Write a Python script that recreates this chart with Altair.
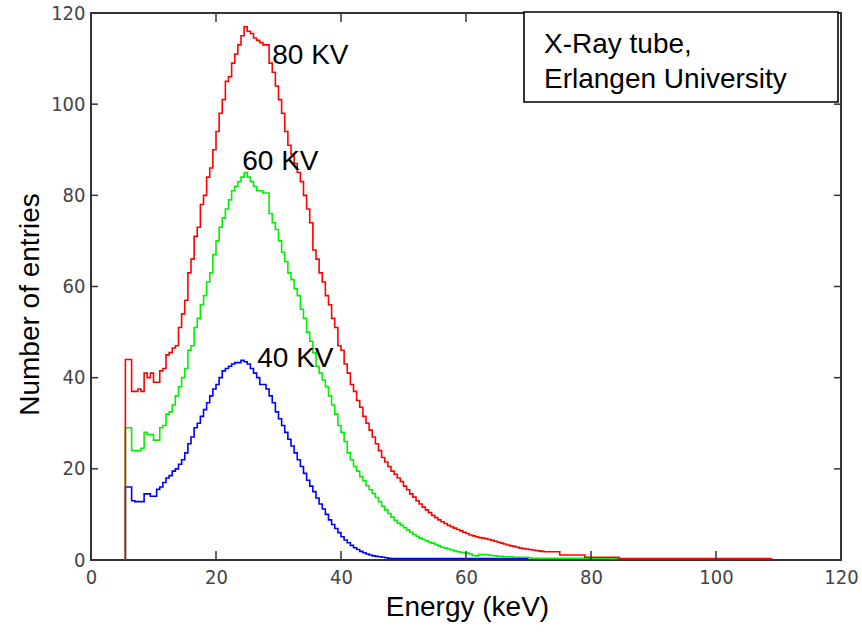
import altair as alt
import pandas as pd

# Histogram binning of the measured spectra (keV)
bin_start = 5.5
bin_width = 0.5

# Counts per bin for each tube voltage
counts_80kv = [
    44, 44, 37, 37, 37.5, 37, 41, 40, 41, 39, 39, 41.5, 42, 45, 45.5, 46.5, 47, 51,
    54, 57, 63, 66, 71, 73, 78, 80, 84, 86, 90, 94, 98, 101, 105, 106, 109, 111, 113, 115,
    117, 116, 115.5, 114.5, 114, 113.5, 113, 113, 109, 107, 104, 101, 98, 94, 91, 89, 87, 85, 83, 80,
    77, 74, 68, 66, 63, 61, 58, 56, 53, 51, 47, 46, 43, 41, 38.5, 37, 35, 33.5, 31.5, 30,
    28.5, 27, 25.5, 24, 22.5, 21.5, 20.5, 19.5, 18.8, 18, 17.2, 16.2, 15.4, 14.5, 13.8, 13, 12.3, 11.6, 11, 10.4,
    9.8, 9.3, 8.8, 8.4, 8.0, 7.6, 7.3, 7.0, 6.7, 6.4, 6.1, 5.8, 5.5, 5.3, 5.1, 4.9, 4.8, 4.7, 4.5, 4.3,
    4.1, 3.9, 3.7, 3.5, 3.3, 3.1, 3.0, 2.8, 2.6, 2.5, 2.4, 2.3, 2.2, 2.1, 2.0, 1.9, 1.8, 1.8, 1.8, 1.8,
    1.8, 1.1, 1.1, 1.1, 1.1, 1.1, 1.1, 1.1, 1.1, 0.6, 0.6, 0.6, 0.6, 0.6, 0.6, 0.6, 0.6, 0.6, 0.6, 0.6,
    0.3, 0.3, 0.3, 0.3, 0.3, 0.3, 0.3, 0.3, 0.3, 0.3, 0.3, 0.3, 0.3, 0.3, 0.3, 0.3, 0.3,
    0.3, 0.3, 0.3, 0.3, 0.3, 0.3, 0.3, 0.3, 0.3, 0.3, 0.3, 0.3, 0.3, 0.3, 0.3, 0.3,
    0.3, 0.3, 0.3, 0.3, 0.3, 0.3, 0.3, 0.3, 0.3, 0.3, 0.3, 0.3, 0.3, 0.3, 0.3, 0.3,
]

counts_60kv = [
    29, 29, 24, 24, 24, 24.5, 28, 27.5, 27.5, 26.3, 26.3, 29, 29.5, 32, 32.5, 34, 36, 38,
    40, 42, 46, 47, 51, 53, 56, 58, 61, 63, 67, 70, 73, 75, 77, 79, 81, 82, 83, 84,
    85, 84, 83, 82, 81, 81, 80.5, 80.5, 76, 74, 72.5, 70, 67.5, 65.5, 63, 61.5, 59.5, 58, 55, 53,
    50, 48, 45.5, 42.5, 41, 39.5, 38, 36, 34, 32, 29.5, 28, 26, 23.5, 22, 20.5, 19.5, 18.3, 17.4, 16.3,
    15.4, 14.6, 13.7, 12.8, 11.8, 11, 10.2, 9.4, 8.7, 8.1, 7.6, 7.1, 6.6, 6.1, 5.6, 5.2, 4.8, 4.5, 4.2, 3.9,
    3.7, 3.4, 3.1, 2.8, 2.6, 2.4, 2.2, 2.0, 1.8, 1.7, 1.6, 1.5, 1.3, 1.0, 0.9, 1.2, 1.2, 1.2, 1.1, 1.0,
    0.9, 0.8, 0.8, 0.7, 0.7, 0.7, 0.6, 0.6, 0.6, 0.6, 0.6, 0.5, 0.4, 0.4, 0.4, 0.4, 0.4, 0.4, 0.4, 0.4,
    0.4, 0.4, 0.4, 0.4, 0.4, 0.4, 0.4, 0.4, 0.4, 0.4, 0.4, 0.4, 0.4, 0.4, 0.4, 0.4, 0.4, 0.4, 0.4, 0.4,
]

counts_40kv = [
    16, 16, 13, 12.8, 12.8, 12.8, 14.5, 14.5, 14, 14, 15.5, 16, 17, 18, 18.5, 19.5, 20, 21,
    22, 23.5, 25.5, 27, 29, 30, 31.5, 33, 34.5, 36, 37.5, 38.5, 40, 41.5, 42, 42.5, 43, 43.3, 43.3, 43.8,
    43.5, 43, 42, 41, 40, 38.5, 38.5, 37.5, 36, 34.5, 32.5, 31, 29.5, 28, 26.5, 25, 23.5, 22, 20.5, 19,
    17.5, 16.2, 15, 13.6, 12.3, 11.2, 10, 8.8, 7.8, 6.9, 6, 5.1, 4.4, 3.8, 3.2, 2.7, 2.3, 1.9, 1.6, 1.3,
    1.1, 0.9, 0.8, 0.7, 0.6, 0.5, 0.4, 0.3, 0.3, 0.3, 0.3, 0.3, 0.3, 0.3, 0.3, 0.3, 0.3, 0.3, 0.3, 0.3,
    0.3, 0.3, 0.3, 0.3, 0.3, 0.3, 0.3, 0.3, 0.3, 0.3, 0.3, 0.3, 0.3, 0.3, 0.3, 0.3,
    0.3, 0.3, 0.3, 0.3, 0.3, 0.3, 0.3, 0.3, 0.3, 0.3, 0.3, 0.3, 0.3, 0.3, 0.3,
]

series_names = ["40 KV", "60 KV", "80 KV"]
series_counts = [counts_40kv, counts_60kv, counts_80kv]
series_colors = ["#0000ff", "#00f000", "#ff0000"]

# Curve annotations (energy, count at text baseline)
label_text = ["80 KV", "60 KV", "40 KV"]
label_energy = [29.0, 24.2, 26.6]
label_count = [108.9, 85.5, 42.4]

tick_values = [0, 20, 40, 60, 80, 100, 120]
inner_ticks = [20, 40, 60, 80, 100]

box_text = "X-Ray tube,\nErlangen University"

W, H = 750, 547

# Histogram outlines as step lines: rise from zero at the first edge
rows = []
for name, counts in zip(series_names, series_counts):
    k = 0
    rows.append({"series": name, "energy": bin_start, "count": 0, "k": k})
    for i, c in enumerate(counts):
        k += 1
        rows.append({"series": name, "energy": bin_start + i * bin_width, "count": c, "k": k})
    k += 1
    rows.append({"series": name, "energy": bin_start + len(counts) * bin_width,
                 "count": counts[-1], "k": k})
hist = pd.DataFrame(rows)

xscale = alt.Scale(domain=[0, 120], nice=False, zero=False)
yscale = alt.Scale(domain=[0, 120], nice=False, zero=False)

label_font = "Liberation Sans Narrow, DejaVu Sans Condensed, Arial Narrow, sans-serif"

x_axis = alt.Axis(
    values=tick_values, ticks=False, domain=False, grid=False,
    labelFont=label_font, labelFontSize=20, labelColor="#444", labelPadding=7,
    labelFlush=False, labelOverlap=False,
    title="Energy (keV)", titleFont="Liberation Sans", titleFontSize=28,
    titleFontWeight="normal", titleColor="#000",
    titleX=376, titleY=47, titleAlign="center", titleBaseline="middle",
)
y_axis = alt.Axis(
    values=tick_values, ticks=False, domain=False, grid=False,
    labelFont=label_font, labelFontSize=20, labelColor="#444", labelPadding=6,
    labelFlush=False, labelOverlap=False,
    title="Number of entries", titleFont="Liberation Sans", titleFontSize=28,
    titleFontWeight="normal", titleColor="#000",
    titleX=-61, titleY=291, titleAlign="center", titleBaseline="middle", titleAngle=270,
)


def X(field):
    return alt.X(field, scale=xscale, axis=x_axis, title="Energy (keV)")


def Y(field):
    return alt.Y(field, scale=yscale, axis=y_axis, title="Number of entries")


layers = []
for name, color in zip(series_names, series_colors):
    layers.append(
        alt.Chart(hist)
        .transform_filter(alt.datum.series == name)
        .mark_line(interpolate="step-after", color=color, strokeWidth=1.6)
        .encode(x=X("energy:Q"), y=Y("count:Q"), order=alt.Order("k:Q"))
    )

ticks_df = pd.DataFrame({"v": inner_ticks})
tick_style = dict(color="#333", strokeWidth=1.5)
xt_bottom = alt.Chart(ticks_df).mark_rule(**tick_style).encode(
    x=X("v:Q"), y=alt.value(H), y2=alt.value(H - 9))
xt_top = alt.Chart(ticks_df).mark_rule(**tick_style).encode(
    x=X("v:Q"), y=alt.value(0), y2=alt.value(9))
yt_left = alt.Chart(ticks_df).mark_rule(**tick_style).encode(
    y=Y("v:Q"), x=alt.value(0), x2=alt.value(7))
yt_right = alt.Chart(ticks_df).mark_rule(**tick_style).encode(
    y=Y("v:Q"), x=alt.value(W), x2=alt.value(W - 7))

labels_df = pd.DataFrame({"t": label_text, "e": label_energy, "n": label_count})
curve_labels = alt.Chart(labels_df).mark_text(
    align="left", baseline="alphabetic", font="Liberation Sans", fontSize=28, color="#000"
).encode(x=X("e:Q"), y=Y("n:Q"), text="t:N")

box_df = pd.DataFrame({"t": [box_text]})
box = alt.Chart(box_df).mark_rect(fill="white", stroke="#000", strokeWidth=1.6).encode(
    x=alt.value(433), x2=alt.value(747), y=alt.value(-1), y2=alt.value(89))
box_label = alt.Chart(box_df).mark_text(
    align="left", baseline="alphabetic", font="Liberation Sans", fontSize=28,
    color="#000", lineBreak="\n", lineHeight=35,
).encode(x=alt.value(453), y=alt.value(40), text="t:N")

chart = alt.layer(
    *layers, xt_bottom, xt_top, yt_left, yt_right, curve_labels, box, box_label
).properties(
    width=W, height=H,
    autosize=alt.AutoSizeParams(type="none"),
    padding={"left": 91, "top": 13, "right": 21, "bottom": 75},
    background="white",
).configure_view(stroke="#333", strokeWidth=2)

chart.save("out.html", embed_options={"renderer": "svg", "actions": False})
